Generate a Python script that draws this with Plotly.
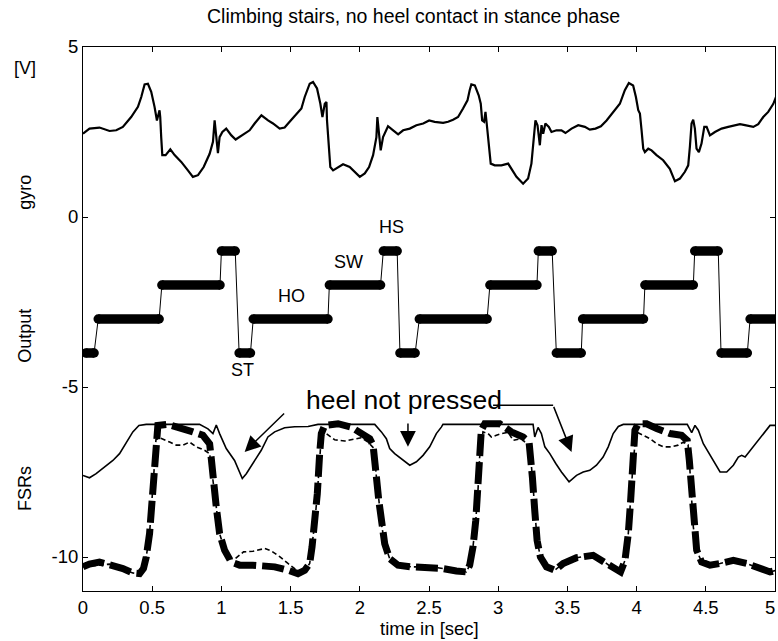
import plotly.graph_objects as go

# ---------------- data ----------------
gyro_t = [0.0, 0.047, 0.119, 0.192, 0.240, 0.288, 0.348, 0.397, 0.421, 0.445,
          0.469, 0.493, 0.517, 0.534, 0.553, 0.558, 0.565, 0.573, 0.597, 0.631,
          0.662, 0.710, 0.758, 0.794, 0.831, 0.872, 0.915, 0.939, 0.951, 0.963,
          0.975, 0.987, 1.007, 1.035, 1.072, 1.103, 1.144, 1.204, 1.240, 1.289,
          1.337, 1.373, 1.421, 1.457, 1.493, 1.542, 1.578, 1.602, 1.638, 1.662,
          1.691, 1.715, 1.730, 1.747, 1.759, 1.763, 1.771, 1.787, 1.807, 1.843,
          1.879, 1.927, 1.963, 2.000, 2.036, 2.067, 2.096, 2.120, 2.127, 2.139,
          2.151, 2.168, 2.188, 2.204, 2.241, 2.277, 2.313, 2.361, 2.409, 2.458,
          2.501,
          2.541, 2.602, 2.638, 2.674, 2.710, 2.746, 2.778, 2.794, 2.806, 2.831,
          2.859, 2.874, 2.884, 2.898, 2.908, 2.917, 2.932, 2.946, 2.975, 3.023,
          3.072, 3.096, 3.132, 3.180, 3.216, 3.240, 3.252, 3.269, 3.284, 3.301,
          3.313, 3.325, 3.341, 3.366, 3.385, 3.421, 3.457, 3.486, 3.530, 3.578,
          3.626, 3.662, 3.703, 3.742, 3.783, 3.831, 3.879, 3.915, 3.944, 3.975,
          3.995, 4.012, 4.024, 4.036, 4.048, 4.060, 4.084, 4.108, 4.144, 4.192,
          4.240, 4.277, 4.313, 4.349, 4.373, 4.385, 4.397, 4.409, 4.421, 4.433,
          4.450, 4.469, 4.489, 4.506, 4.530, 4.566, 4.614, 4.662, 4.711, 4.747,
          4.783, 4.843, 4.879, 4.915, 4.951, 4.988, 5.012]
gyro_v = [2.45, 2.60, 2.63, 2.53, 2.55, 2.65, 2.94, 3.24, 3.53, 3.90,
          3.92, 3.68, 3.24, 2.84, 3.14, 2.94, 2.35, 1.82, 1.82, 1.99,
          1.82, 1.62, 1.37, 1.18, 1.23, 1.47, 1.86, 2.21, 2.84, 2.35,
          1.88, 2.35, 2.50, 2.60, 2.40, 2.28, 2.40, 2.55, 2.75, 2.99,
          2.84, 2.75, 2.60, 2.63, 2.80, 3.04, 3.19, 3.53, 3.92, 3.97,
          3.78, 3.33, 2.94, 3.33, 3.38, 2.84, 2.35, 1.47, 1.37, 1.47,
          1.55, 1.47, 1.33, 1.18, 1.28, 1.47, 1.82, 2.35, 2.94, 2.35,
          1.96, 2.35, 2.55, 2.67, 2.55, 2.43, 2.55, 2.60, 2.70, 2.75,
          2.84,
          2.80, 2.77, 2.80, 2.86, 2.94, 3.19, 3.43, 3.73, 3.90, 3.87,
          3.58, 3.33, 2.84, 2.80, 3.09, 2.75, 2.06, 1.57, 1.52, 1.52,
          1.57, 1.42, 1.18, 0.98, 1.13, 1.57, 2.16, 2.84, 2.70, 2.11,
          2.70, 2.45, 2.75, 2.65, 2.50, 2.55, 2.55, 2.47, 2.60, 2.70,
          2.65, 2.57, 2.60, 2.67, 2.84, 3.09, 3.33, 3.73, 3.94, 3.87,
          3.53, 3.14, 3.04, 2.55, 2.01, 1.91, 2.01, 1.96, 1.82, 1.67,
          1.42, 1.05, 1.13, 1.33, 1.52, 2.06, 2.75, 2.86, 2.60, 2.01,
          1.91, 2.16, 2.65, 2.65, 2.40, 2.50, 2.60, 2.65, 2.70, 2.73,
          2.70, 2.65, 2.73, 2.94, 3.09, 3.33, 3.58]

# Output state: level held between start and end times
out_start = [0.02, 0.11, 0.57, 1.00, 1.128, 1.23, 1.78, 2.17, 2.29, 2.43,
             2.94, 3.29, 3.42, 3.61, 4.06, 4.42, 4.61, 4.82]
out_end = [0.08, 0.55, 0.99, 1.10, 1.21, 1.77, 2.15, 2.27, 2.40, 2.92,
           3.28, 3.39, 3.60, 4.05, 4.41, 4.59, 4.80, 5.03]
out_level = [-4, -3, -2, -1, -4, -3, -2, -1, -4, -3,
             -2, -1, -4, -3, -2, -1, -4, -3]

# FSRs
fsr_heel_t = [0.0, 0.047, 0.095, 0.168, 0.216, 0.264, 0.312, 0.360, 0.404, 0.457,
              0.842, 0.903, 0.939, 0.963, 0.987, 1.035, 1.095, 1.151, 1.180, 1.228,
              1.288, 1.336, 1.385, 1.457, 1.529, 1.626, 1.698, 2.108, 2.137, 2.156,
              2.192, 2.216, 2.252, 2.300, 2.361, 2.409, 2.457, 2.505, 2.553, 2.589,
              2.601, 3.252, 3.264, 3.288, 3.312, 3.337, 3.373, 3.416, 3.457, 3.512,
              3.566, 3.614, 3.662, 3.710, 3.758, 3.795, 3.831, 3.868, 3.904, 4.366,
              4.398, 4.422, 4.446, 4.482, 4.530, 4.567, 4.603, 4.651, 4.699, 4.735,
              4.759, 4.784, 4.832, 4.880, 4.928, 4.964, 5.012]
fsr_heel_v = [-7.60, -7.67, -7.55, -7.30, -7.16, -6.96, -6.62, -6.32, -6.13, -6.10,
              -6.10, -6.23, -6.37, -6.12, -6.37, -6.81, -7.16, -7.69, -7.55, -7.25,
              -6.86, -6.47, -6.32, -6.20, -6.17, -6.16, -6.10, -6.10, -6.22, -6.32,
              -6.52, -6.81, -6.96, -7.11, -7.30, -7.20, -7.01, -6.76, -6.37, -6.18,
              -6.10, -6.10, -6.47, -6.19, -6.37, -6.76, -6.96, -7.25, -7.50, -7.79,
              -7.60, -7.50, -7.45, -7.30, -7.06, -6.76, -6.37, -6.16, -6.10, -6.10,
              -6.34, -6.13, -6.27, -6.67, -7.01, -7.25, -7.50, -7.50, -7.30, -7.06,
              -7.01, -7.06, -6.81, -6.57, -6.32, -6.13, -6.13]

fsr_mid_t = [0.0, 0.192, 0.360, 0.409, 0.437, 0.457, 0.481, 0.500, 0.517, 0.527,
             0.553, 0.626, 0.674, 0.722, 0.770, 0.818, 0.878, 0.915, 0.939, 0.963,
             0.987, 1.023, 1.060, 1.100, 1.160, 1.228, 1.270, 1.312, 1.360, 1.421,
             1.481, 1.529, 1.553, 1.602, 1.638, 1.655, 1.674, 1.693, 1.710, 1.722,
             1.758, 1.818, 1.891, 1.963, 2.011, 2.060, 2.103, 2.120, 2.137, 2.156,
             2.180, 2.216, 2.276, 2.373, 2.517, 2.601, 2.698, 2.770, 2.794, 2.818,
             2.838, 2.854, 2.866, 2.890, 2.927, 2.951, 2.987, 3.023, 3.071, 3.108,
             3.168, 3.204, 3.228, 3.247, 3.264, 3.281, 3.305, 3.349, 3.409, 3.469,
             3.566, 3.686, 3.782, 3.831, 3.884, 3.916, 3.940, 3.957, 3.976, 3.999,
             4.048, 4.096, 4.145, 4.193, 4.253, 4.301, 4.337, 4.372, 4.381, 4.398,
             4.410, 4.434, 4.470, 4.530, 4.603, 4.699, 4.795, 4.892, 4.964, 5.012]
fsr_mid_v = [-10.29, -10.21, -10.47, -10.49, -10.34, -10.00, -9.31, -8.33, -7.25, -6.55,
             -6.49, -6.62, -6.71, -6.71, -6.62, -6.76, -6.86, -6.96, -7.74, -8.53,
             -9.31, -9.80, -10.05, -10.05, -9.85, -9.83, -9.78, -9.75, -9.82, -9.99,
             -10.19, -10.34, -10.49, -10.39, -10.19, -9.70, -9.02, -8.14, -6.96, -6.45,
             -6.37, -6.55, -6.59, -6.52, -6.49, -6.62, -6.81, -7.65, -8.33, -9.02,
             -9.61, -10.05, -10.24, -10.29, -10.29, -10.34, -10.41, -10.44, -10.24, -9.70,
             -8.92, -8.04, -7.06, -6.32, -6.37, -6.47, -6.42, -6.37, -6.33, -6.57,
             -6.52, -6.67, -6.76, -7.65, -8.63, -9.51, -10.00, -10.29, -10.39, -10.19,
             -10.02, -9.95, -10.19, -10.34, -10.44, -10.10, -9.31, -8.33, -7.16, -6.32,
             -6.42, -6.52, -6.67, -6.76, -6.76, -6.71, -6.62, -6.70, -7.16, -8.14,
             -9.12, -9.80, -10.15, -10.24, -10.19, -10.10, -10.19, -10.34, -10.44, -10.39]

fsr_toe_t = [0.0, 0.047, 0.119, 0.192, 0.288, 0.360, 0.409, 0.437, 0.457, 0.481,
             0.500, 0.517, 0.529, 0.541, 0.613, 0.698, 0.794, 0.866, 0.915, 0.927,
             0.939, 0.963, 0.987, 1.023, 1.071, 1.132, 1.228, 1.288, 1.385, 1.481,
             1.553, 1.602, 1.638, 1.655, 1.674, 1.693, 1.710, 1.722, 1.746, 1.843,
             1.939, 2.011, 2.072, 2.096, 2.108, 2.120, 2.137, 2.156, 2.180, 2.216,
             2.276, 2.373, 2.517, 2.601, 2.698, 2.770, 2.794, 2.818, 2.838, 2.854,
             2.866, 2.878, 2.903, 3.011, 3.095, 3.180, 3.223, 3.235, 3.247, 3.264,
             3.281, 3.305, 3.349, 3.409, 3.469, 3.566, 3.686, 3.782, 3.831, 3.884,
             3.916, 3.940, 3.957, 3.976, 3.988, 4.012, 4.072, 4.145, 4.241, 4.325,
             4.366, 4.381, 4.398, 4.410, 4.434, 4.470, 4.530, 4.603, 4.699, 4.795,
             4.892, 4.964, 5.012]
fsr_toe_v = [-10.29, -10.21, -10.15, -10.21, -10.34, -10.47, -10.49, -10.34, -10.00, -9.31,
             -8.33, -7.25, -6.47, -6.13, -6.10, -6.18, -6.32, -6.42, -6.67, -7.11,
             -7.74, -8.53, -9.31, -9.80, -10.15, -10.24, -10.24, -10.26, -10.29, -10.39,
             -10.49, -10.39, -10.19, -9.70, -9.02, -8.14, -6.96, -6.37, -6.13, -6.08,
             -6.18, -6.37, -6.52, -6.71, -7.06, -7.65, -8.33, -9.02, -9.61, -10.05,
             -10.24, -10.29, -10.29, -10.34, -10.41, -10.44, -10.24, -9.70, -8.92, -8.04,
             -7.06, -6.27, -6.08, -6.08, -6.32, -6.47, -6.62, -6.96, -7.65, -8.63,
             -9.51, -10.00, -10.29, -10.39, -10.19, -10.02, -9.95, -10.19, -10.34, -10.44,
             -10.10, -9.31, -8.33, -7.16, -6.27, -6.08, -6.08, -6.22, -6.37, -6.42,
             -6.57, -7.16, -8.14, -9.12, -9.80, -10.15, -10.24, -10.19, -10.10, -10.19,
             -10.34, -10.44, -10.39]

x_ticks = [0, 0.5, 1, 1.5, 2, 2.5, 3, 3.5, 4, 4.5, 5]
x_ticktext = ['0', '0.5', '1', '1.5', '2', '2.5', '3', '3.5', '4', '4.5', '']
x_last_label = '5'
y_ticks = [-10, -5, 0, 5]
y_ticktext = ['-10', '-5', '0', '5']

assert len(gyro_t) == len(gyro_v)
assert len(fsr_heel_t) == len(fsr_heel_v)
assert len(fsr_mid_t) == len(fsr_mid_v)
assert len(fsr_toe_t) == len(fsr_toe_v)

# ---------------- figure ----------------
FONT = "Liberation Sans, Arial, Helvetica, sans-serif"
fig = go.Figure()

fig.add_trace(go.Scatter(x=gyro_t, y=gyro_v, mode='lines',
                         line=dict(color='black', width=2.2)))

# thin connector through all states
thin_x, thin_y = [], []
for s, e, lv in zip(out_start, out_end, out_level):
    thin_x += [s, e]
    thin_y += [lv, lv]
fig.add_trace(go.Scatter(x=thin_x, y=thin_y, mode='lines',
                         line=dict(color='black', width=1)))
# thick state bars
bar_x, bar_y = [], []
for s, e, lv in zip(out_start, out_end, out_level):
    bar_x += [s, e, None]
    bar_y += [lv, lv, None]
fig.add_trace(go.Scatter(x=bar_x, y=bar_y, mode='lines+markers',
                         line=dict(color='black', width=9.5),
                         marker=dict(color='black', size=9.5, line=dict(width=0))))

fig.add_trace(go.Scatter(x=fsr_heel_t, y=fsr_heel_v, mode='lines',
                         line=dict(color='black', width=1.6)))
fig.add_trace(go.Scatter(x=fsr_mid_t, y=fsr_mid_v, mode='lines',
                         line=dict(color='black', width=1.6, dash='5px,3px')))
fig.add_trace(go.Scatter(x=fsr_toe_t, y=fsr_toe_v, mode='lines',
                         line=dict(color='black', width=7, dash='22px,6px')))

ann = []
def txt(x, y, t, size=18, xref='x', yref='y', angle=0, xanchor='center', yanchor='middle'):
    ann.append(dict(x=x, y=y, xref=xref, yref=yref, text=t, showarrow=False,
                    textangle=angle, xanchor=xanchor, yanchor=yanchor,
                    font=dict(family=FONT, size=size, color='black')))

txt(0.477, 1.057, 'Climbing stairs, no heel contact in stance phase', size=19.5, xref='paper', yref='paper')
txt(0.501, -0.069, 'time in [sec]', size=18.5, xref='paper', yref='paper')
txt(-0.0838, 0.961, '[V]', size=18, xref='paper', yref='paper')
txt(-0.0838, 0.732, 'gyro', size=18, xref='paper', yref='paper', angle=-90)
txt(-0.0838, 0.469, 'Output', size=18, xref='paper', yref='paper', angle=-90)
txt(-0.0838, 0.1875, 'FSRs', size=18, xref='paper', yref='paper', angle=-90)
txt(2.23, -0.28, 'HS')
txt(1.92, -1.32, 'SW')
txt(1.51, -2.33, 'HO')
txt(1.153, -4.51, 'ST')
txt(2.317, -5.38, 'heel not pressed', size=26.5)
# last x tick label, kept just inside the page edge
ann.append(dict(x=1.0035, y=-0.0295, xref='paper', yref='paper', text=x_last_label,
                showarrow=False, xanchor='right', yanchor='middle',
                font=dict(family=FONT, size=18.5, color='black')))

for (hx, hy, tx, ty) in [(1.168, -6.91, 1.464, -5.735),
                         (2.348, -6.76, 2.348, -6.03),
                         (3.53, -6.91, 3.397, -5.54)]:
    ann.append(dict(x=hx, y=hy, ax=tx, ay=ty, xref='x', yref='y', axref='x', ayref='y',
                    text='', showarrow=True, arrowhead=2, arrowsize=2.1, arrowwidth=1.5,
                    arrowcolor='black'))

fig.add_shape(type='line', x0=2.963, y0=-5.54, x1=3.397, y1=-5.54, xref='x', yref='y',
              line=dict(color='black', width=1.5))

fig.update_layout(
    width=778, height=641,
    margin=dict(l=83, r=3, t=47, b=50, autoexpand=False),
    paper_bgcolor='white', plot_bgcolor='white',
    showlegend=False,
    annotations=ann,
    font=dict(family=FONT, size=18, color='black'),
)
fig.update_xaxes(range=[0, 5], tickvals=x_ticks, ticktext=x_ticktext,
                 showgrid=False, zeroline=False, showline=True, linecolor='black',
                 linewidth=1, mirror='ticks', ticks='inside', ticklen=5,
                 ticklabeloverflow='allow', automargin=False,
                 tickcolor='black', tickfont=dict(family=FONT, size=18.5, color='black'))
fig.update_yaxes(range=[-11, 5], tickvals=y_ticks, ticktext=y_ticktext,
                 showgrid=False, zeroline=False, showline=True, linecolor='black',
                 linewidth=1, mirror='ticks', ticks='inside', ticklen=5,
                 automargin=False,
                 tickcolor='black', tickfont=dict(family=FONT, size=18.5, color='black'))

fig.write_html("out.html")
